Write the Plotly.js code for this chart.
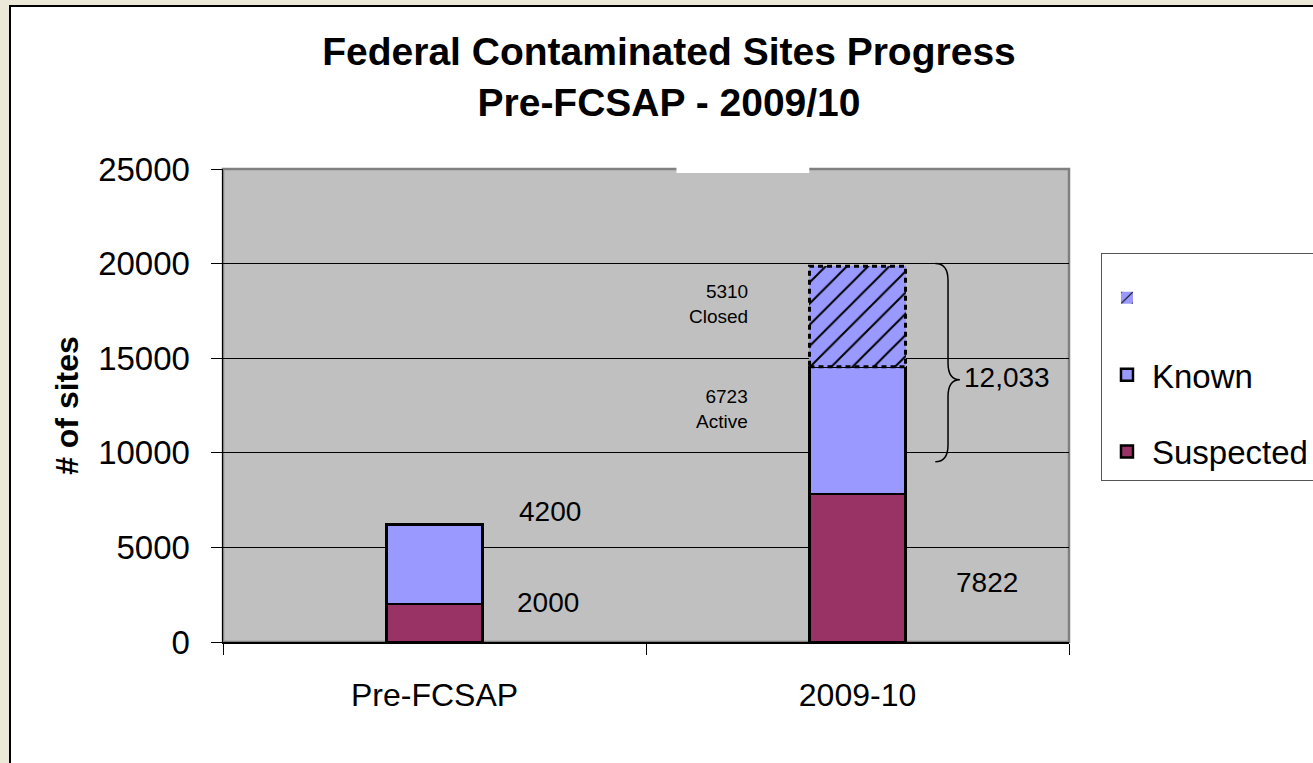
<!DOCTYPE html>
<html>
<head>
<meta charset="utf-8">
<script src="https://cdn.plot.ly/plotly-3.0.1.min.js"></script>
<style>
  html, body { margin: 0; padding: 0; background: #ece9d8; overflow: hidden; }
  #frame { position: absolute; left: 9px; top: 5px; width: 1340px; height: 760px; background: #ffffff;
           border-left: 2px solid #000; border-top: 2px solid #000; }
  #chart { position: absolute; left: 0; top: 0; width: 1360px; height: 763px; }
</style>
</head>
<body>
<div id="frame"></div>
<div id="chart"></div>
<script>
// ---- data ----
const categories = ['Pre-FCSAP', '2009-10'];
const suspected = [2000, 7822];
const known = [4200, 6723];
const closed = [0, 5310];
const seriesNames = ['Suspected', 'Known', ''];
const knownLabel = 'Active';
const closedLabel = 'Closed';
const titleLines = ['Federal Contaminated Sites Progress', 'Pre-FCSAP - 2009/10'];
const yTitle = '# of sites';

// ---- styles ----
const FONT = 'Liberation Sans, Arial, sans-serif';
const W = 1360;
const BAR_W = 0.227;
const colSusp = '#993366';
const colKnown = '#9999ff';

const traces = [
  { type: 'bar', x: categories, y: suspected, name: seriesNames[0], legendgroup: 'a', legendrank: 3,
    width: BAR_W, marker: { color: colSusp, line: { color: '#000', width: 2.5 } }, hoverinfo: 'y+name' },
  { type: 'bar', x: categories, y: known, name: seriesNames[1], legendgroup: 'b', legendrank: 2,
    width: BAR_W, marker: { color: colKnown, line: { color: '#000', width: 2.5 } }, hoverinfo: 'y+name' },
  { type: 'bar', x: categories, y: closed, name: seriesNames[2], legendgroup: 'c', legendrank: 1,
    width: BAR_W, marker: { color: colKnown, line: { color: colKnown, width: 0 },
      pattern: { shape: '/', fgcolor: '#000', bgcolor: colKnown, size: 15, solidity: 0.13 } },
    hoverinfo: 'y' }
];

// dashed outline for the "closed" segment, derived from data
const shapes = [];
closed.forEach((v, i) => {
  if (!v) return;
  const base = suspected[i] + known[i];
  shapes.push({ type: 'rect', xref: 'x', yref: 'y', x0: i - BAR_W / 2, x1: i + BAR_W / 2,
    y0: base, y1: base + v, line: { color: '#000', width: 3, dash: '5px,4px' }, fillcolor: 'rgba(0,0,0,0)', layer: 'above' });
});
// plot frame (gray border top/right)
shapes.push({ type: 'rect', xref: 'paper', yref: 'paper', x0: 0, x1: 1, y0: 0, y1: 1,
  line: { color: '#808080', width: 2.5 }, fillcolor: 'rgba(0,0,0,0)', layer: 'below' });
// white patch covering part of the top border
shapes.push({ type: 'rect', xref: 'paper', yref: 'paper', x0: 0.536, x1: 0.693, y0: 0.9915, y1: 1.006,
  line: { width: 0 }, fillcolor: '#ffffff', layer: 'above' });
// curly brace for active+closed total
const bi = 1;
const bTop = suspected[bi] + known[bi] + closed[bi] + 150;
const bBot = suspected[bi] + 1700;
const bMid = (bTop + bBot) / 2 - 900;
const xa = 0.842, xb = 0.857, xc = 0.871;
shapes.push({ type: 'path', xref: 'paper', yref: 'y', layer: 'above',
  path: `M ${xa},${bTop} Q ${xb},${bTop} ${xb},${bTop - 900} L ${xb},${bMid + 900} Q ${xb},${bMid} ${xc},${bMid} ` +
        `Q ${xb},${bMid} ${xb},${bMid - 900} L ${xb},${bBot + 900} Q ${xb},${bBot} ${xa},${bBot}`,
  line: { color: '#000', width: 1.5 } });

const annFont = { family: FONT, size: 28, color: '#000' };
const smallFont = { family: FONT, size: 19, color: '#000' };
const annotations = [
  { x: 0 + 0.272, y: 6890, xref: 'x', yref: 'y', text: String(known[0]), showarrow: false, font: annFont },
  { x: 0 + 0.268, y: 2067, xref: 'x', yref: 'y', text: String(suspected[0]), showarrow: false, font: annFont },
  { x: 1 + 0.306, y: 3127, xref: 'x', yref: 'y', text: String(suspected[1]), showarrow: false, font: annFont },
  { x: 1 - 0.253, y: 12294, xref: 'x', yref: 'y', text: known[1] + '<br>' + knownLabel, showarrow: false,
    font: smallFont, xanchor: 'right', align: 'right' },
  { x: 1 - 0.253, y: 17860, xref: 'x', yref: 'y', text: closed[1] + '<br>' + closedLabel, showarrow: false,
    font: smallFont, xanchor: 'right', align: 'right' },
  { x: 0.873, y: 13990, xref: 'paper', yref: 'y', text: (known[1] + closed[1]).toLocaleString('en-US'),
    showarrow: false, font: annFont, xanchor: 'left' }
];

const layout = {
  width: W, height: 763,
  paper_bgcolor: 'rgba(0,0,0,0)',
  plot_bgcolor: '#c0c0c0',
  margin: { l: 223, r: W - 1069, t: 169, b: 121 },
  barmode: 'stack',
  title: { text: '<b>' + titleLines.join('<br>') + '</b>', x: 669 / W, xanchor: 'center', y: 0.915, yanchor: 'top',
    font: { family: FONT, size: 39, color: '#000' } },
  font: { family: FONT, color: '#000' },
  xaxis: { type: 'category', tickson: 'boundaries', ticks: 'outside', ticklen: 11, tickwidth: 1, tickcolor: '#000',
    showline: true, linecolor: '#000', linewidth: 1.5, showgrid: false, ticklabelstandoff: 24,
    tickfont: { family: FONT, size: 32, color: '#000' } },
  yaxis: { range: [0, 25000], dtick: 5000, tick0: 0, ticks: 'outside', ticklen: 11, tickwidth: 1, tickcolor: '#000',
    showline: true, linecolor: '#000', linewidth: 1.5, showgrid: true, gridcolor: '#000', gridwidth: 1,
    zeroline: false, ticklabelstandoff: 14, tickformat: 'd',
    tickfont: { family: FONT, size: 33, color: '#000' },
    title: { text: '<b>' + yTitle + '</b>', font: { family: FONT, size: 32, color: '#000' }, standoff: 10 } },
  legend: { x: 1.0378, xanchor: 'left', y: 0.822, yanchor: 'top', traceorder: 'grouped', tracegroupgap: 31,
    itemwidth: 40,
    title: { text: ' ', font: { family: FONT, size: 12 } },
    bgcolor: '#ffffff', bordercolor: '#555', borderwidth: 1, font: { family: FONT, size: 33, color: '#000' } },
  shapes: shapes,
  annotations: annotations,
  showlegend: true
};

Plotly.newPlot('chart', traces, layout, { displayModeBar: false, staticPlot: true });
</script>
</body>
</html>
